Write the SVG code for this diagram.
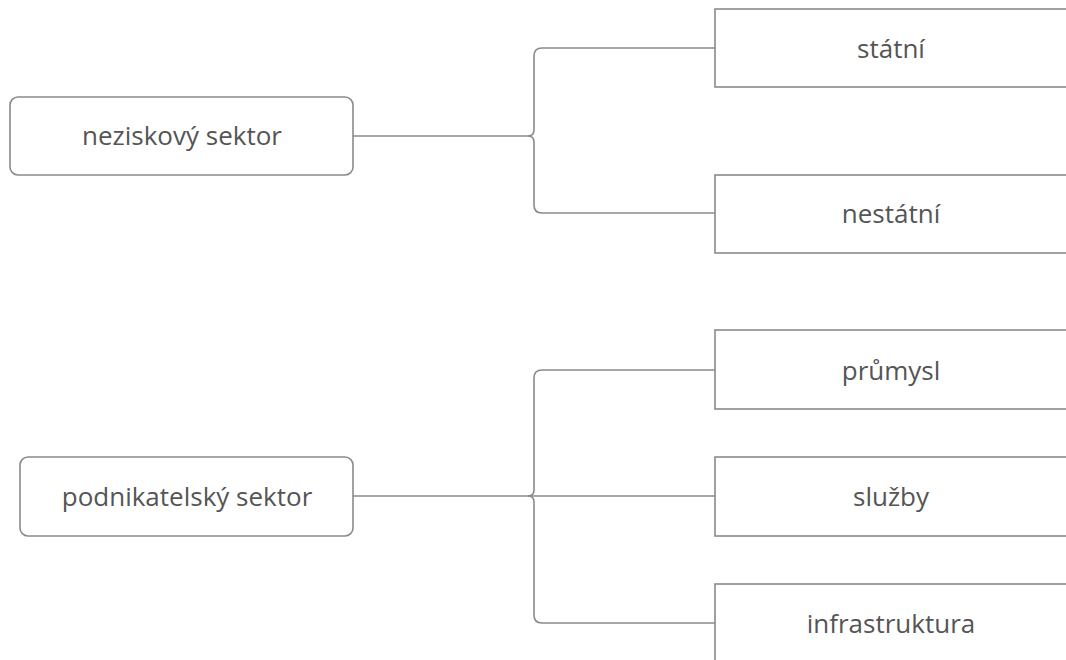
<svg xmlns="http://www.w3.org/2000/svg" width="1066" height="660" viewBox="0 0 1066 660">
<style>
.box{fill:#fff;stroke:#8a8a8a;stroke-width:1.6}
.lbl{font-family:"Open Sans",sans-serif;font-size:26px;fill:#555;text-anchor:middle}
.con{fill:none;stroke:#8a8a8a;stroke-width:1.6}
</style>
<rect width="1066" height="660" fill="#fff"/>
<g id="connectors">
<path class="con" d="M353 136 H528 Q534 136 534 130 V56 Q534 48 542 48 H715"/>
<path class="con" d="M528 136 Q534 136 534 142 V205 Q534 213 542 213 H715"/>
<path class="con" d="M353 496 H715"/>
<path class="con" d="M528 496 Q534 496 534 490 V378 Q534 370 542 370 H715"/>
<path class="con" d="M528 496 Q534 496 534 502 V615 Q534 623 542 623 H715"/>
</g>
<g id="neziskovy"><rect class="box" x="10" y="97" width="343" height="78" rx="8"/><text class="lbl" x="182" y="145">neziskový sektor</text></g>
<g id="podnikatelsky"><rect class="box" x="20" y="457" width="333" height="79" rx="8"/><text class="lbl" x="187" y="506">podnikatelský sektor</text></g>
<g id="statni"><rect class="box" x="715" y="9" width="360" height="78"/><text class="lbl" x="891" y="58">státní</text></g>
<g id="nestatni"><rect class="box" x="715" y="175" width="360" height="78"/><text class="lbl" x="891" y="223">nestátní</text></g>
<g id="prumysl"><rect class="box" x="715" y="330" width="360" height="79"/><text class="lbl" x="891" y="380">průmysl</text></g>
<g id="sluzby"><rect class="box" x="715" y="457" width="360" height="79"/><text class="lbl" x="891" y="506">služby</text></g>
<g id="infrastruktura"><rect class="box" x="715" y="584" width="360" height="90"/><text class="lbl" x="891" y="633">infrastruktura</text></g>
</svg>
